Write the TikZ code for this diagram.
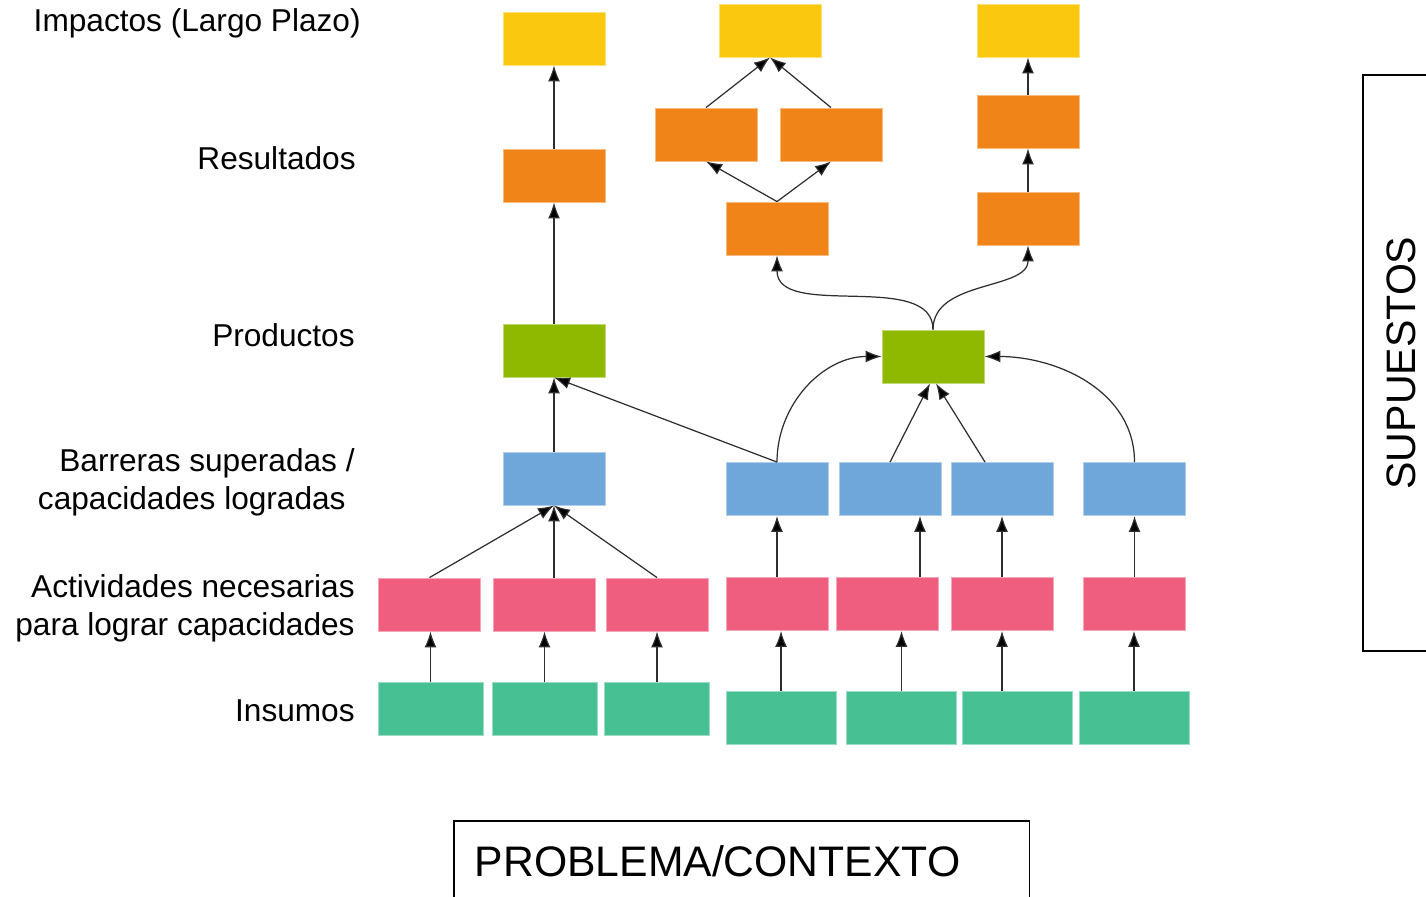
\documentclass[tikz,border=0pt]{standalone}
\usepackage{fontspec}
\setmainfont{Liberation Sans}
\usepackage{tikz}
\usetikzlibrary{positioning, arrows.meta, calc}

\definecolor{colImp}{HTML}{F9C80F}
\definecolor{colRes}{HTML}{F18419}
\definecolor{colProd}{HTML}{8FB900}
\definecolor{colBarr}{HTML}{6FA7DB}
\definecolor{colAct}{HTML}{EF5E7F}
\definecolor{colIns}{HTML}{47C194}
\definecolor{colFlecha}{HTML}{2E2E2E}

\begin{document}
\begin{tikzpicture}[x=0.02cm, y=0.02cm,
  every node/.style={font=\fontsize{18}{21.6}\selectfont},
  caja/.style={minimum width=2.04cm, minimum height=1.06cm, inner sep=0pt, fill=#1, draw=#1!55!white, line width=0.5pt},
  imp/.style={caja=colImp},
  res/.style={caja=colRes},
  prod/.style={caja=colProd},
  barr/.style={caja=colBarr},
  act/.style={caja=colAct},
  ins/.style={caja=colIns, minimum width=2.1cm},
  insancho/.style={caja=colIns, minimum width=2.2cm},
  etiqueta/.style={anchor=east, inner sep=0pt, align=right},
  flecha/.style={draw=colFlecha, line width=0.7pt, -{Latex[length=3.2mm, width=2.4mm, fill=black]}}]

\useasboundingbox (0,0) rectangle (1426,-896);

% --- Level labels ---
\node[etiqueta] (lblImp) at (361,-23) {Impactos (Largo Plazo)};
\node[etiqueta] (lblRes) at (356,-158) {Resultados};
\node[etiqueta] (lblProd) at (355,-335) {Productos};
\node[etiqueta] (lblBarr) at (355,-482) {Barreras superadas /\\capacidades logradas\hspace*{0.18cm}};
\node[etiqueta] (lblAct) at (355,-608) {Actividades necesarias\\para lograr capacidades};
\node[etiqueta] (lblIns) at (355,-711) {Insumos};

% --- Impacts (yellow) ---
\node[imp] (imp1) at (554,-38.5) {};
\node[imp] (imp2) at (770,-30.5) {};
\node[imp] (imp3) at (1028,-30.5) {};

% --- Results (orange) ---
\node[res] (res1) at (554,-175.5) {};
\node[res] (res2) at (706,-134.5) {};
\node[res] (res3) at (831,-134.5) {};
\node[res] (res4) at (777,-228.5) {};
\node[res] (res5) at (1028,-121.5) {};
\node[res] (res6) at (1028,-218.5) {};

% --- Products (green) ---
\node[prod] (prod1) at (554,-350.5) {};
\node[prod] (prod2) at (933,-356.5) {};

% --- Barriers / capacities (blue) ---
\node[barr] (barr1) at (554,-478.5) {};
\node[barr] (barr2) at (777,-489) {};
\node[barr] (barr3) at (890,-489) {};
\node[barr] (barr4) at (1002,-489) {};
\node[barr] (barr5) at (1134.5,-489) {};

% --- Activities (pink) ---
\node[act] (act1) at (429.5,-604.5) {};
\node[act] (act2) at (544,-604.5) {};
\node[act] (act3) at (657,-604.5) {};
\node[act] (act4) at (777,-604) {};
\node[act] (act5) at (887,-604) {};
\node[act] (act6) at (1002,-604) {};
\node[act] (act7) at (1134.5,-604) {};

% --- Inputs (teal) ---
\node[ins] (ins1) at (430.5,-708.5) {};
\node[ins] (ins2) at (544.5,-708.5) {};
\node[ins] (ins3) at (657,-708.5) {};
\node[insancho] (ins4) at (781,-718) {};
\node[insancho] (ins5) at (901.5,-718) {};
\node[insancho] (ins6) at (1017,-718) {};
\node[insancho] (ins7) at (1134,-718) {};

% --- Inputs -> activities ---
\draw[flecha] (ins1.north) -- (ins1.north |- act1.south);
\draw[flecha] (ins2.north) -- (ins2.north |- act2.south);
\draw[flecha] (ins3.north) -- (ins3.north |- act3.south);
\draw[flecha] (ins4.north) -- (ins4.north |- act4.south);
\draw[flecha] (ins5.north) -- (ins5.north |- act5.south);
\draw[flecha] (act6.south |- ins6.north) -- (act6.south);
\draw[flecha] (ins7.north) -- (ins7.north |- act7.south);

% --- Activities -> barriers ---
\draw[flecha] (act1.north) -- (barr1.south);
\draw[flecha] (act2.north -| barr1.south) -- (barr1.south);
\draw[flecha] (act3.north) -- (barr1.south);
\draw[flecha] (act4.north) -- (barr2.south);
\draw[flecha] ($(act5.north)+(33,0)$) -- ($(barr3.south)+(30,0)$);
\draw[flecha] (act6.north) -- (barr4.south);
\draw[flecha] (act7.north) -- (barr5.south);

% --- Barriers -> products ---
\draw[flecha] (barr1.north) -- (prod1.south);
\draw[flecha] (barr2.north) -- (prod1.south);
\draw[flecha] (barr2.north) to[out=90, in=180] (prod2.west);
\draw[flecha] (barr3.north) -- ($(prod2.south)+(-3,0)$);
\draw[flecha] ($(barr4.north)+(-17,0)$) -- ($(prod2.south)+(3,0)$);
\draw[flecha] (barr5.north) to[out=90, in=0] (prod2.east);

% --- Products -> results -> impacts ---
\draw[flecha] (prod1.north) -- (res1.south);
\draw[flecha] (res1.north) -- (imp1.south);
\draw[flecha] (prod2.north) .. controls +(0,60) and +(0,-65) .. (res4.south);
\draw[flecha] (prod2.north) .. controls +(0,50) and +(0,-45) .. (res6.south);
\draw[flecha] (res4.north) -- (res2.south);
\draw[flecha] (res4.north) -- (res3.south);
\draw[flecha] (res2.north) -- (imp2.south);
\draw[flecha] (res3.north) -- (imp2.south);
\draw[flecha] (res6.north) -- (res5.south);
\draw[flecha] (res5.north) -- (imp3.south);

% --- Context and assumptions frames ---
\node[draw, line width=0.9pt, anchor=north west, minimum height=1.6cm, inner xsep=0.42cm,
      text width=10.68cm, align=left, font=\fontsize{24.3}{29}\selectfont] (problema) at (453,-820) {PROBLEMA/CONTEXTO};
\node[draw, line width=0.9pt, rotate=90, minimum width=11.52cm, minimum height=1.54cm,
      inner sep=0pt, font=\fontsize{23.4}{28}\selectfont] (supuestos) at (1401.5,-363) {SUPUESTOS};

\end{tikzpicture}
\end{document}
